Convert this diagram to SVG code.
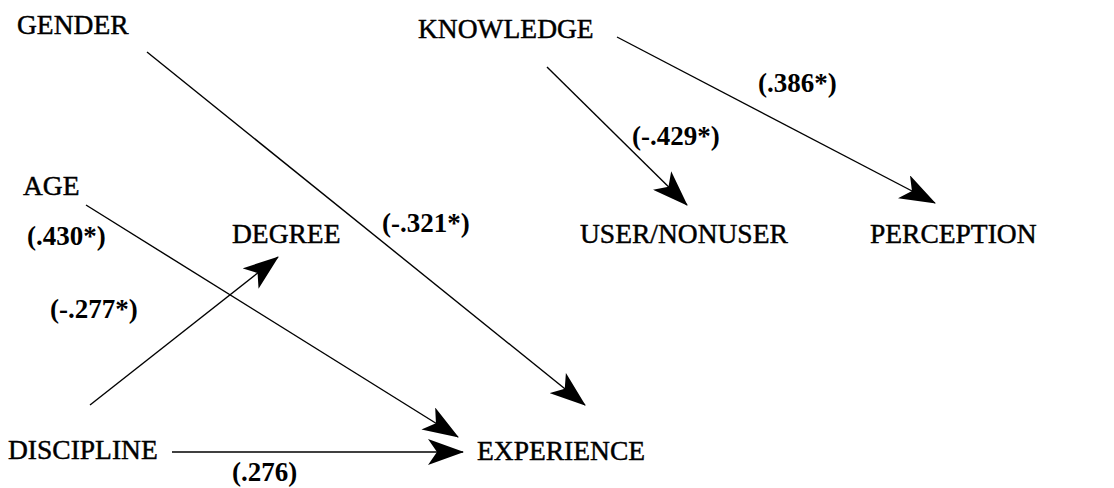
<svg xmlns="http://www.w3.org/2000/svg" width="1114" height="488" viewBox="0 0 1114 488">
<style>
text{font-family:"Liberation Serif","Times New Roman",serif;font-size:27.5px;fill:#000;stroke:#000;stroke-width:0.45}
.lbl{font-size:27px;font-weight:bold;stroke-width:0}
.c line{stroke:#000;stroke-width:1.4;fill:none}
</style>
<defs>
<marker id="ah" viewBox="0 0 36 26" refX="35" refY="13" markerWidth="36" markerHeight="26" markerUnits="userSpaceOnUse" orient="auto">
<path d="M0,0 L36,13 L0,26 L9,13 z" fill="#000"/>
</marker>
</defs>
<rect width="1114" height="488" fill="#fff"/>
<g class="c" id="connectors">
<line x1="147" y1="52" x2="585" y2="405" marker-end="url(#ah)"/>
<line x1="617" y1="37" x2="935" y2="203" marker-end="url(#ah)"/>
<line x1="547" y1="67" x2="687" y2="205" marker-end="url(#ah)"/>
<line x1="86" y1="205" x2="458" y2="437" marker-end="url(#ah)"/>
<line x1="90" y1="405" x2="278" y2="257" marker-end="url(#ah)"/>
<line x1="172" y1="452" x2="463" y2="452" marker-end="url(#ah)"/>
</g>
<g id="gender"><text x="17" y="34">GENDER</text></g>
<g id="knowledge"><text x="418" y="38">KNOWLEDGE</text></g>
<g id="age"><text x="23" y="195">AGE</text></g>
<g id="degree"><text x="232" y="243">DEGREE</text></g>
<g id="user"><text x="580" y="243">USER/NONUSER</text></g>
<g id="perception"><text x="870" y="243">PERCEPTION</text></g>
<g id="discipline"><text x="8" y="459">DISCIPLINE</text></g>
<g id="experience"><text x="477" y="460">EXPERIENCE</text></g>
<g id="labels">
<text class="lbl" x="27" y="245">(.430*)</text>
<text class="lbl" x="382" y="232">(-.321*)</text>
<text class="lbl" x="632" y="145">(-.429*)</text>
<text class="lbl" x="758" y="92">(.386*)</text>
<text class="lbl" x="50" y="318">(-.277*)</text>
<text class="lbl" x="232" y="481">(.276)</text>
</g>
</svg>
